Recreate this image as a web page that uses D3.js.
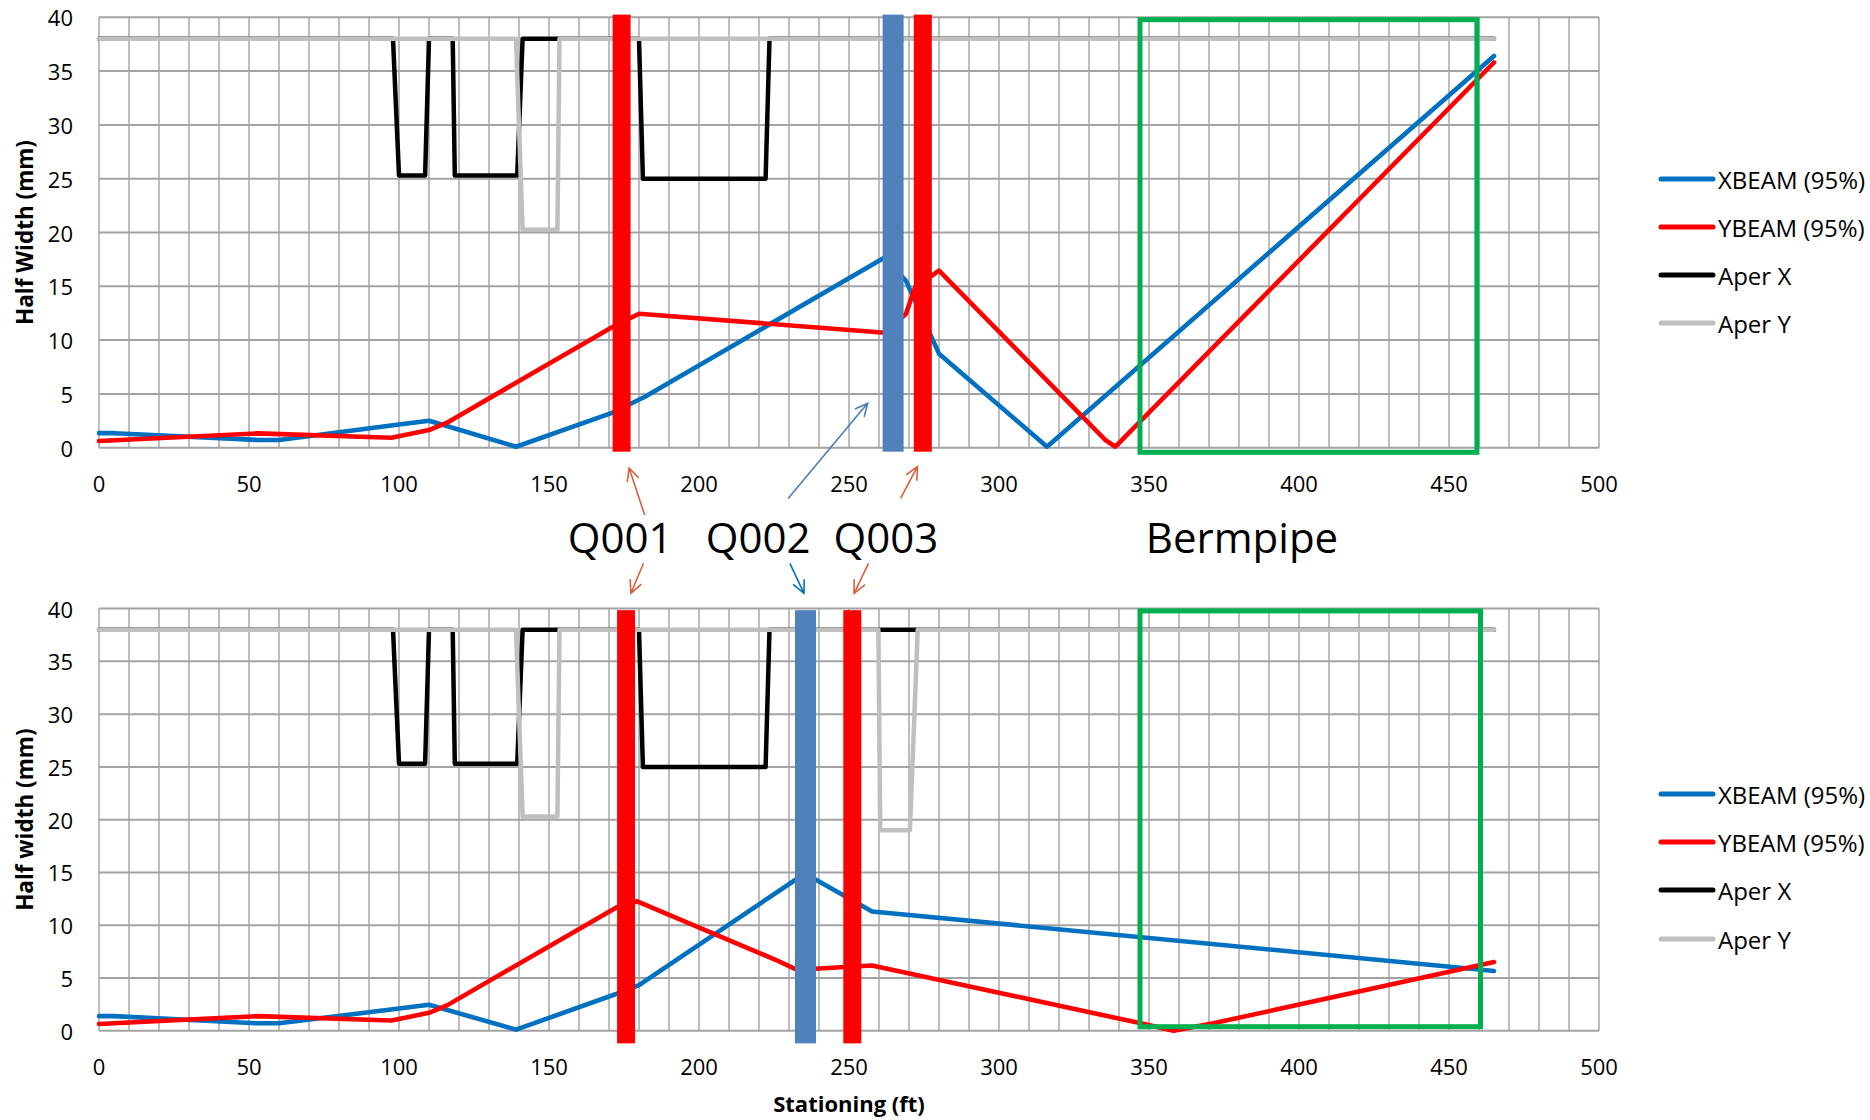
<!DOCTYPE html>
<html>
<head>
<meta charset="utf-8">
<script src="https://cdn.jsdelivr.net/npm/d3@7"></script>
<style>
  body { margin: 0; background: #fff; }
  text { font-family: "Open Sans", "DejaVu Sans", sans-serif; fill: #000; }
</style>
</head>
<body>
<svg id="chart" width="1870" height="1120"></svg>
<script>
// ---- data (stationing in ft, half width in mm) ----
const xTickValues = d3.range(0, 501, 50);
const yTickValues = d3.range(0, 41, 5);
const seriesNames = ["XBEAM (95%)", "YBEAM (95%)", "Aper X", "Aper Y"];

const xbeamTop = [[0,1.35],[5,1.35],[53,0.72],[60,0.72],[100,2.15],[110,2.5],[139,0.09],[171,3.24],[182,4.73],[262,17.7],[269,15.5],[280,8.74],[316,0.09],[465,36.4]];
const ybeamTop = [[0,0.62],[53,1.33],[97.5,0.93],[110,1.64],[116,2.32],[171,11.2],[180,12.45],[262,10.69],[269,12.45],[272,14.9],[280,16.46],[335.5,0.71],[338.8,0.09],[465,35.8]];

const xbeamBottom = [[0,1.38],[5,1.38],[53,0.7],[60,0.7],[100,2.1],[110,2.46],[139,0.1],[172.6,3.5],[180,4.32],[235.3,14.9],[257.7,11.3],[465,5.66]];
const ybeamBottom = [[0,0.64],[53,1.38],[97.5,0.96],[110,1.7],[116,2.4],[172.6,11.7],[179.4,12.26],[225.5,6.72],[232.7,5.76],[240,5.9],[257.7,6.18],[347.3,0.7],[358.2,0.0],[371.4,0.7],[465,6.5]];

const aperX = [[0,38],[98,38],[100,25.3],[108.7,25.3],[110,38],[117.9,38],[118.6,25.3],[139.4,25.3],[141.2,38],[180,38],[181.3,25],[222.2,25],[223.5,38],[465,38]];
const aperYTop = [[0,38],[139,38],[141.2,20.25],[152.8,20.25],[153.5,38],[465,38]];
const aperYBottom = [[0,38],[139,38],[141.2,20.3],[152.8,20.3],[153.5,38],[259.8,38],[260.4,19],[270.3,19],[272.9,38],[465,38]];

// quadrupoles drawn as thick bars, and the bermpipe box
const quadsTop = [{ name: "Q001", ft: 174.2, kind: "red" }, { name: "Q002", ft: 264.7, kind: "blue" }, { name: "Q003", ft: 274.6, kind: "red" }];
const quadsBottom = [{ name: "Q001", ft: 175.7, kind: "red" }, { name: "Q002", ft: 235.5, kind: "blue" }, { name: "Q003", ft: 251.1, kind: "red" }];
const quadSpanTop = [-0.37, 40.25];
const quadSpanBottom = [-1.2, 39.85];
const bermTop = { x0: 347, x1: 459.3, y0: -0.43, y1: 39.78 };
const bermBottom = { x0: 347, x1: 460.5, y0: 0.38, y1: 39.78 };

// labels between the panels (x in ft)
const magnetLabels = [{ text: "Q001", ft: 173.7 }, { text: "Q002", ft: 219.7 }, { text: "Q003", ft: 262.3 }, { text: "Bermpipe", ft: 381 }];
const arrowsUp = [
  { from: [181.9, 515], to: [176.7, 468], color: "#d9603b" },
  { from: [229.7, 498.5], to: [256.2, 403.3], color: "#4a7ebb" },
  { from: [267.2, 498.3], to: [272.8, 466.7], color: "#d9603b" }
];
const arrowsDown = [
  { from: [181.5, 563.3], to: [177.3, 593.3], color: "#d9603b" },
  { from: [230.3, 563.3], to: [235, 593.3], color: "#0070c0" },
  { from: [256.5, 563.3], to: [251.7, 593.3], color: "#d9603b" }
];

// ---- layout ----
const COLORS = ["#0070c0", "#ff0000", "#000000", "#bfbfbf"];
const QUAD_COLORS = { red: "#ff0000", blue: "#4f81bd" };
const QUAD_WIDTH = { red: 18, blue: 21 };
const svg = d3.select("#chart");
const x = d3.scaleLinear().domain([0, 500]).range([99, 1599]);

const drawPanel = (cfg) => {
  const y = d3.scaleLinear().domain([0, 40]).range(cfg.yRange);
  const g = svg.append("g");

  // gridlines
  g.append("g").selectAll("line")
    .data(d3.range(0, 501, 10))
    .join("line")
    .attr("x1", d => x(d)).attr("x2", d => x(d))
    .attr("y1", y(0)).attr("y2", y(40))
    .attr("stroke", "#bdbdbd").attr("stroke-width", 2);
  g.append("g").selectAll("line")
    .data(yTickValues)
    .join("line")
    .attr("x1", x(0)).attr("x2", x(500))
    .attr("y1", d => y(d)).attr("y2", d => y(d))
    .attr("stroke", "#a3a3a3").attr("stroke-width", 2);

  // tick labels
  g.append("g").selectAll("text")
    .data(yTickValues)
    .join("text")
    .attr("x", 73).attr("y", d => y(d))
    .attr("text-anchor", "end").attr("dominant-baseline", "central")
    .style("font-size", "22px")
    .text(d => d);
  g.append("g").selectAll("text")
    .data(xTickValues)
    .join("text")
    .attr("x", d => x(d)).attr("y", y(0) + 35)
    .attr("text-anchor", "middle").attr("dominant-baseline", "central")
    .style("font-size", "22px")
    .text(d => d);

  // y title
  const midY = (y(0) + y(40)) / 2;
  g.append("text")
    .attr("transform", `translate(24,${midY}) rotate(-90)`)
    .attr("text-anchor", "middle").attr("dominant-baseline", "central")
    .style("font-size", "22.5px").style("font-weight", "bold")
    .text(cfg.yTitle);

  // series
  const line = d3.line().x(d => x(d[0])).y(d => y(d[1]));
  cfg.series.forEach((s, i) => {
    g.append("path")
      .datum(s)
      .attr("d", line)
      .attr("fill", "none")
      .attr("stroke", COLORS[i])
      .attr("stroke-width", i < 2 ? 4.6 : 4.5)
      .attr("stroke-linejoin", "round")
      .attr("stroke-linecap", "round");
  });

  // quads
  g.append("g").selectAll("rect")
    .data(cfg.quads)
    .join("rect")
    .attr("x", d => x(d.ft) - QUAD_WIDTH[d.kind] / 2)
    .attr("width", d => QUAD_WIDTH[d.kind])
    .attr("y", y(cfg.quadSpan[1]))
    .attr("height", y(cfg.quadSpan[0]) - y(cfg.quadSpan[1]))
    .attr("fill", d => QUAD_COLORS[d.kind]);

  // bermpipe box
  const b = cfg.berm;
  g.append("rect")
    .attr("x", x(b.x0)).attr("y", y(b.y1))
    .attr("width", x(b.x1) - x(b.x0))
    .attr("height", y(b.y0) - y(b.y1))
    .attr("fill", "none")
    .attr("stroke", "#00b050").attr("stroke-width", 5);

  // legend
  const leg = g.append("g").selectAll("g")
    .data(seriesNames)
    .join("g")
    .attr("transform", (d, i) => `translate(0,${cfg.legendY[i]})`);
  leg.append("line")
    .attr("x1", 1661).attr("x2", 1713)
    .attr("stroke", (d, i) => COLORS[i])
    .attr("stroke-width", 5).attr("stroke-linecap", "round");
  leg.append("text")
    .attr("x", 1718).attr("dominant-baseline", "central")
    .style("font-size", "24px")
    .text(d => d);
};

drawPanel({
  yRange: [447.7, 17.3],
  yTitle: "Half Width (mm)",
  series: [xbeamTop, ybeamTop, aperX, aperYTop],
  quads: quadsTop, quadSpan: quadSpanTop, berm: bermTop,
  legendY: [179, 227, 275, 323]
});
drawPanel({
  yRange: [1030.7, 608.6],
  yTitle: "Half width (mm)",
  series: [xbeamBottom, ybeamBottom, aperX, aperYBottom],
  quads: quadsBottom, quadSpan: quadSpanBottom, berm: bermBottom,
  legendY: [794, 842, 890, 939]
});

// x title
svg.append("text")
  .attr("x", x(250)).attr("y", 1112)
  .attr("text-anchor", "middle")
  .style("font-size", "22px").style("font-weight", "bold")
  .text("Stationing (ft)");

// magnet labels
svg.append("g").selectAll("text")
  .data(magnetLabels)
  .join("text")
  .attr("x", d => x(d.ft)).attr("y", 553)
  .attr("text-anchor", "middle")
  .style("font-size", "42px")
  .text(d => d.text);

// arrows with open heads
const drawArrow = (a) => {
  const x1 = x(a.from[0]), y1 = a.from[1], x2 = x(a.to[0]), y2 = a.to[1];
  const ang = Math.atan2(y2 - y1, x2 - x1);
  const len = 14, spread = 0.45;
  const h1 = [x2 - len * Math.cos(ang - spread), y2 - len * Math.sin(ang - spread)];
  const h2 = [x2 - len * Math.cos(ang + spread), y2 - len * Math.sin(ang + spread)];
  svg.append("path")
    .attr("d", `M${x1},${y1}L${x2},${y2}M${h1[0]},${h1[1]}L${x2},${y2}L${h2[0]},${h2[1]}`)
    .attr("fill", "none")
    .attr("stroke", a.color)
    .attr("stroke-width", 1.6);
};
arrowsUp.forEach(drawArrow);
arrowsDown.forEach(drawArrow);
</script>
</body>
</html>
